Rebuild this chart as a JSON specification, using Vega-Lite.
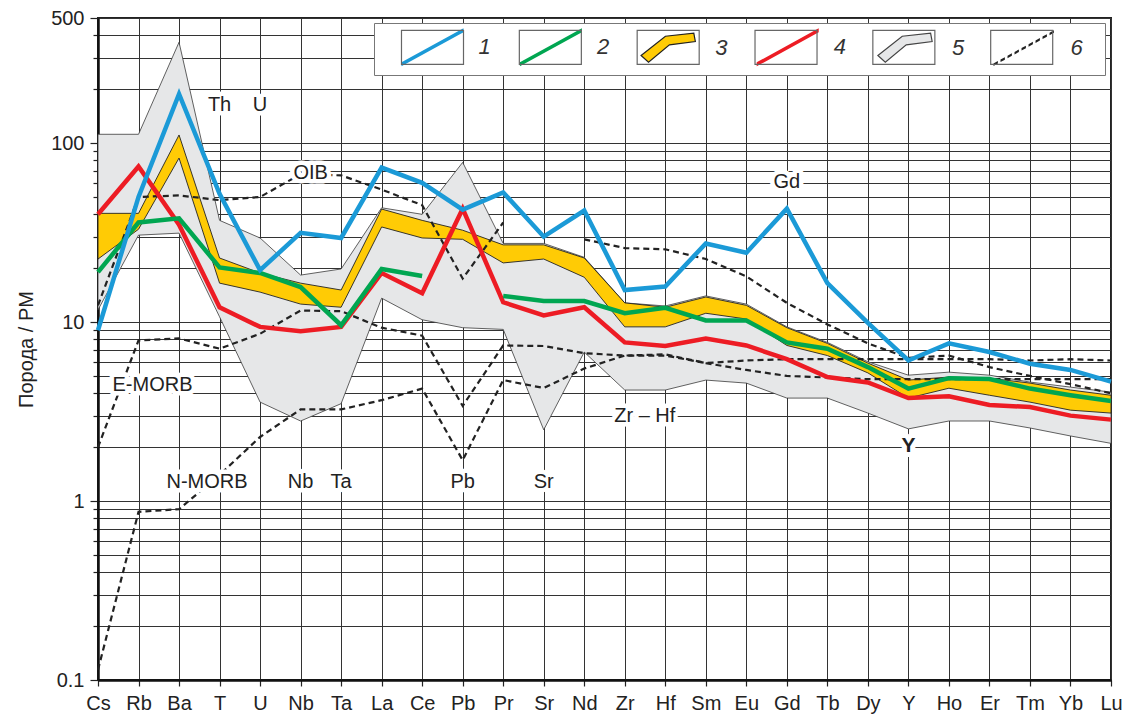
{
"$schema": "https://vega.github.io/schema/vega-lite/v6.json",
"width": 1013, "height": 662,
"autosize": {"type": "none"},
"padding": {"left": 98, "top": 18, "right": 15, "bottom": 37},
"background": "white",
"config": {"view": {"stroke": "#222", "strokeWidth": 2}, "font": "Liberation Sans"},
"datasets": {
"lines": [
{"el":"Cs","s":"1","g":"1","v":9.0},{"el":"Rb","s":"1","g":"1","v":50},{"el":"Ba","s":"1","g":"1","v":188},{"el":"T","s":"1","g":"1","v":52},{"el":"U","s":"1","g":"1","v":19.5},{"el":"Nb","s":"1","g":"1","v":31.5},{"el":"Ta","s":"1","g":"1","v":29.5},{"el":"La","s":"1","g":"1","v":73},{"el":"Ce","s":"1","g":"1","v":60},{"el":"Pb","s":"1","g":"1","v":42.5},{"el":"Pr","s":"1","g":"1","v":53},{"el":"Sr","s":"1","g":"1","v":30},{"el":"Nd","s":"1","g":"1","v":42},{"el":"Zr","s":"1","g":"1","v":15.1},{"el":"Hf","s":"1","g":"1","v":15.8},{"el":"Sm","s":"1","g":"1","v":27.5},{"el":"Eu","s":"1","g":"1","v":24.4},{"el":"Gd","s":"1","g":"1","v":43},{"el":"Tb","s":"1","g":"1","v":16.5},{"el":"Dy","s":"1","g":"1","v":9.9},{"el":"Y","s":"1","g":"1","v":6.1},{"el":"Ho","s":"1","g":"1","v":7.6},{"el":"Er","s":"1","g":"1","v":6.8},{"el":"Tm","s":"1","g":"1","v":5.85},{"el":"Yb","s":"1","g":"1","v":5.4},{"el":"Lu","s":"1","g":"1","v":4.65},
{"el":"Cs","s":"2","g":"2a","v":19},{"el":"Rb","s":"2","g":"2a","v":36},{"el":"Ba","s":"2","g":"2a","v":38},{"el":"T","s":"2","g":"2a","v":20.2},{"el":"U","s":"2","g":"2a","v":18.8},{"el":"Nb","s":"2","g":"2a","v":15.7},{"el":"Ta","s":"2","g":"2a","v":9.6},{"el":"La","s":"2","g":"2a","v":19.8},{"el":"Ce","s":"2","g":"2a","v":18.1},
{"el":"Pr","s":"2","g":"2b","v":14},{"el":"Sr","s":"2","g":"2b","v":13.1},{"el":"Nd","s":"2","g":"2b","v":13.1},{"el":"Zr","s":"2","g":"2b","v":11.2},{"el":"Hf","s":"2","g":"2b","v":12.0},{"el":"Sm","s":"2","g":"2b","v":10.2},{"el":"Eu","s":"2","g":"2b","v":10.2},{"el":"Gd","s":"2","g":"2b","v":7.7},{"el":"Tb","s":"2","g":"2b","v":7.1},{"el":"Dy","s":"2","g":"2b","v":5.6},{"el":"Y","s":"2","g":"2b","v":4.25},{"el":"Ho","s":"2","g":"2b","v":4.86},{"el":"Er","s":"2","g":"2b","v":4.8},{"el":"Tm","s":"2","g":"2b","v":4.25},{"el":"Yb","s":"2","g":"2b","v":3.9},{"el":"Lu","s":"2","g":"2b","v":3.62},
{"el":"Cs","s":"4","g":"4","v":40},{"el":"Rb","s":"4","g":"4","v":74},{"el":"Ba","s":"4","g":"4","v":35},{"el":"T","s":"4","g":"4","v":12.1},{"el":"U","s":"4","g":"4","v":9.4},{"el":"Nb","s":"4","g":"4","v":8.9},{"el":"Ta","s":"4","g":"4","v":9.4},{"el":"La","s":"4","g":"4","v":18.8},{"el":"Ce","s":"4","g":"4","v":14.5},{"el":"Pb","s":"4","g":"4","v":43},{"el":"Pr","s":"4","g":"4","v":12.9},{"el":"Sr","s":"4","g":"4","v":10.9},{"el":"Nd","s":"4","g":"4","v":12.1},{"el":"Zr","s":"4","g":"4","v":7.7},{"el":"Hf","s":"4","g":"4","v":7.35},{"el":"Sm","s":"4","g":"4","v":8.1},{"el":"Eu","s":"4","g":"4","v":7.4},{"el":"Gd","s":"4","g":"4","v":6.2},{"el":"Tb","s":"4","g":"4","v":4.93},{"el":"Dy","s":"4","g":"4","v":4.6},{"el":"Y","s":"4","g":"4","v":3.76},{"el":"Ho","s":"4","g":"4","v":3.85},{"el":"Er","s":"4","g":"4","v":3.44},{"el":"Tm","s":"4","g":"4","v":3.35},{"el":"Yb","s":"4","g":"4","v":3.0},{"el":"Lu","s":"4","g":"4","v":2.85},
{"el":"Cs","s":"6","g":"OIB1","v":12.4},{"el":"Rb","s":"6","g":"OIB1","v":50},{"el":"Ba","s":"6","g":"OIB1","v":51},{"el":"T","s":"6","g":"OIB1","v":48},{"el":"U","s":"6","g":"OIB1","v":50},{"el":"Nb","s":"6","g":"OIB1","v":67},{"el":"Ta","s":"6","g":"OIB1","v":66},{"el":"La","s":"6","g":"OIB1","v":55},{"el":"Ce","s":"6","g":"OIB1","v":45},{"el":"Pb","s":"6","g":"OIB1","v":17.5},{"el":"Pr","s":"6","g":"OIB1","v":36},
{"el":"Nd","s":"6","g":"OIB2","v":29},{"el":"Zr","s":"6","g":"OIB2","v":25.9},{"el":"Hf","s":"6","g":"OIB2","v":25.5},{"el":"Sm","s":"6","g":"OIB2","v":22.5},{"el":"Eu","s":"6","g":"OIB2","v":18},{"el":"Gd","s":"6","g":"OIB2","v":12.8},{"el":"Tb","s":"6","g":"OIB2","v":9.7},{"el":"Dy","s":"6","g":"OIB2","v":7.6},{"el":"Y","s":"6","g":"OIB2","v":6.3},{"el":"Ho","s":"6","g":"OIB2","v":6.5},{"el":"Er","s":"6","g":"OIB2","v":5.6},{"el":"Tm","s":"6","g":"OIB2","v":5.0},{"el":"Yb","s":"6","g":"OIB2","v":4.5},{"el":"Lu","s":"6","g":"OIB2","v":4.0},
{"el":"Cs","s":"6","g":"E","v":2.0},{"el":"Rb","s":"6","g":"E","v":7.9},{"el":"Ba","s":"6","g":"E","v":8.1},{"el":"T","s":"6","g":"E","v":7.1},{"el":"U","s":"6","g":"E","v":8.6},{"el":"Nb","s":"6","g":"E","v":11.6},{"el":"Ta","s":"6","g":"E","v":11.5},{"el":"La","s":"6","g":"E","v":9.3},{"el":"Ce","s":"6","g":"E","v":8.4},{"el":"Pb","s":"6","g":"E","v":3.4},{"el":"Pr","s":"6","g":"E","v":7.4},{"el":"Sr","s":"6","g":"E","v":7.35},{"el":"Nd","s":"6","g":"E","v":6.7},{"el":"Zr","s":"6","g":"E","v":6.5},{"el":"Hf","s":"6","g":"E","v":6.6},{"el":"Sm","s":"6","g":"E","v":5.9},{"el":"Eu","s":"6","g":"E","v":5.4},{"el":"Gd","s":"6","g":"E","v":5.0},{"el":"Tb","s":"6","g":"E","v":4.9},{"el":"Dy","s":"6","g":"E","v":4.8},{"el":"Y","s":"6","g":"E","v":4.8},{"el":"Ho","s":"6","g":"E","v":4.8},{"el":"Er","s":"6","g":"E","v":4.8},{"el":"Tm","s":"6","g":"E","v":4.8},{"el":"Yb","s":"6","g":"E","v":4.8},{"el":"Lu","s":"6","g":"E","v":4.8},
{"el":"Cs","s":"6","g":"N","v":0.114},{"el":"Rb","s":"6","g":"N","v":0.87},{"el":"Ba","s":"6","g":"N","v":0.9},{"el":"T","s":"6","g":"N","v":1.4},{"el":"U","s":"6","g":"N","v":2.28},{"el":"Nb","s":"6","g":"N","v":3.25},{"el":"Ta","s":"6","g":"N","v":3.25},{"el":"La","s":"6","g":"N","v":3.66},{"el":"Ce","s":"6","g":"N","v":4.25},{"el":"Pb","s":"6","g":"N","v":1.69},{"el":"Pr","s":"6","g":"N","v":4.74},{"el":"Sr","s":"6","g":"N","v":4.28},{"el":"Nd","s":"6","g":"N","v":5.5},{"el":"Zr","s":"6","g":"N","v":6.5},{"el":"Hf","s":"6","g":"N","v":6.5},{"el":"Sm","s":"6","g":"N","v":5.9},{"el":"Eu","s":"6","g":"N","v":6.1},{"el":"Gd","s":"6","g":"N","v":6.2},{"el":"Tb","s":"6","g":"N","v":6.2},{"el":"Dy","s":"6","g":"N","v":6.2},{"el":"Y","s":"6","g":"N","v":6.2},{"el":"Ho","s":"6","g":"N","v":6.2},{"el":"Er","s":"6","g":"N","v":6.2},{"el":"Tm","s":"6","g":"N","v":6.1},{"el":"Yb","s":"6","g":"N","v":6.2},{"el":"Lu","s":"6","g":"N","v":6.1}
],
"bands": [
{"el":"Cs","b":"5","v":112,"lo":11.7},{"el":"Rb","b":"5","v":112,"lo":30.6},{"el":"Ba","b":"5","v":366,"lo":31.4},{"el":"T","b":"5","v":37,"lo":10.7},{"el":"U","b":"5","v":29.5,"lo":3.57},{"el":"Nb","b":"5","v":18.3,"lo":2.8},{"el":"Ta","b":"5","v":19.8,"lo":3.5},{"el":"La","b":"5","v":43.5,"lo":13.6},{"el":"Ce","b":"5","v":40,"lo":10.3},{"el":"Pb","b":"5","v":78,"lo":9.3},{"el":"Pr","b":"5","v":27.5,"lo":9.1},{"el":"Sr","b":"5","v":27.5,"lo":2.5},{"el":"Nd","b":"5","v":23,"lo":6.8},{"el":"Zr","b":"5","v":12.8,"lo":4.17},{"el":"Hf","b":"5","v":12.3,"lo":4.17},{"el":"Sm","b":"5","v":14,"lo":4.74},{"el":"Eu","b":"5","v":12.6,"lo":4.56},{"el":"Gd","b":"5","v":9.4,"lo":3.76},{"el":"Tb","b":"5","v":7.7,"lo":3.76},{"el":"Dy","b":"5","v":6.0,"lo":3.1},{"el":"Y","b":"5","v":5.05,"lo":2.53},{"el":"Ho","b":"5","v":5.25,"lo":2.8},{"el":"Er","b":"5","v":5.05,"lo":2.8},{"el":"Tm","b":"5","v":4.62,"lo":2.56},{"el":"Yb","b":"5","v":4.33,"lo":2.31},{"el":"Lu","b":"5","v":4.06,"lo":2.1},
{"el":"Cs","b":"3","v":40.5,"lo":22.5},{"el":"Rb","b":"3","v":40.5,"lo":33},{"el":"Ba","b":"3","v":111,"lo":82.5},{"el":"T","b":"3","v":22.8,"lo":16.5},{"el":"U","b":"3","v":18.8,"lo":14.7},{"el":"Nb","b":"3","v":16.5,"lo":12.6},{"el":"Ta","b":"3","v":15.1,"lo":12.1},{"el":"La","b":"3","v":42.8,"lo":34},{"el":"Ce","b":"3","v":37,"lo":29.5},{"el":"Pb","b":"3","v":32.6,"lo":29},{"el":"Pr","b":"3","v":27,"lo":21.4},{"el":"Sr","b":"3","v":27,"lo":22.5},{"el":"Nd","b":"3","v":22.8,"lo":17.8},{"el":"Zr","b":"3","v":12.8,"lo":9.4},{"el":"Hf","b":"3","v":12.1,"lo":9.4},{"el":"Sm","b":"3","v":13.8,"lo":11.2},{"el":"Eu","b":"3","v":12.4,"lo":10.4},{"el":"Gd","b":"3","v":9.3,"lo":7.4},{"el":"Tb","b":"3","v":7.6,"lo":6.5},{"el":"Dy","b":"3","v":5.9,"lo":5.2},{"el":"Y","b":"3","v":4.74,"lo":3.76},{"el":"Ho","b":"3","v":4.93,"lo":4.27},{"el":"Er","b":"3","v":4.86,"lo":3.9},{"el":"Tm","b":"3","v":4.56,"lo":3.57},{"el":"Yb","b":"3","v":4.17,"lo":3.22},{"el":"Lu","b":"3","v":3.9,"lo":3.1}
],
"labs": [
{"t":"Th","el":"T","v":163,"g":"c"},{"t":"U","el":"U","v":163,"g":"c"},{"t":"Gd","el":"Gd","v":60.5,"g":"c"},{"t":"Nb","el":"Nb","v":1.277,"g":"c"},{"t":"Ta","el":"Ta","v":1.277,"g":"c"},{"t":"Pb","el":"Pb","v":1.277,"g":"c"},{"t":"Sr","el":"Sr","v":1.277,"g":"c"},
{"t":"OIB","el":"Nb","v":68,"g":"oib"},{"t":"E-MORB","el":"Rb","v":4.45,"g":"em"},{"t":"N-MORB","el":"Ba","v":1.277,"g":"nm"},{"t":"Zr – Hf","el":"Zr","v":2.98,"g":"zh"},{"t":"Y","el":"Y","v":2.04,"g":"y"}
],
"legend": [{"k":"1","k2":"a"},{"k":"2","k2":"b"},{"k":"3","k2":"c"},{"k":"4","k2":"d"},{"k":"5","k2":"e"},{"k":"6","k2":"f"}]
},
"encoding": {
"x": {"field": "el", "type": "nominal",
 "scale": {"type": "point", "padding": 0, "domain": ["Cs","Rb","Ba","T","U","Nb","Ta","La","Ce","Pb","Pr","Sr","Nd","Zr","Hf","Sm","Eu","Gd","Tb","Dy","Y","Ho","Er","Tm","Yb","Lu"]},
 "axis": {"title": null, "labelAngle": 0, "labelFont": "Liberation Sans", "labelFontSize": 20, "labelColor": "#222", "labelPadding": 7, "labelOverlap": false, "tickSize": 6, "tickColor": "#222", "tickWidth": 1.2, "domainColor": "#111", "domainWidth": 2.5, "grid": true, "gridColor": "#333", "gridWidth": 1}},
"y": {"field": "v", "type": "quantitative",
 "scale": {"type": "log", "domain": [0.1, 500], "nice": false},
 "axis": {"values": [0.1,0.2,0.3,0.4,0.5,0.6,0.7,0.8,0.9,1,2,3,4,5,6,7,8,9,10,20,30,40,50,60,70,80,90,100,200,300,400,500],
  "format": "~g", "labelExpr": "indexof([0.1,1,10,100,500], datum.value) >= 0 ? datum.label : ''",
  "labelFont": "Liberation Sans", "labelFontSize": 20, "labelColor": "#222", "labelPadding": 6, "labelOverlap": false,
  "tickSize": {"condition": {"test": "indexof([0.1,1,10,100,500], datum.value) >= 0", "value": 8}, "value": 5},
  "tickColor": "#222", "tickWidth": 1.2, "domainColor": "#111", "domainWidth": 2.5,
  "grid": true, "gridColor": "#333", "gridWidth": 1,
  "title": "Порода / PM", "titleFont": "Liberation Sans", "titleFontSize": 20, "titleFontWeight": "normal", "titleColor": "#222", "titlePadding": 14}}
},
"layer": [
{"data": {"name": "bands"}, "transform": [{"filter": "datum.b == '5'"}], "mark": {"type": "area", "fill": "#e6e7e8", "stroke": "#3a3a3a", "strokeWidth": 0.8, "strokeJoin": "miter"}, "encoding": {"y2": {"field": "lo"}}},
{"data": {"name": "bands"}, "transform": [{"filter": "datum.b == '3'"}], "mark": {"type": "area", "fill": "#ffcb05", "stroke": "#222", "strokeWidth": 0.9, "strokeJoin": "miter"}, "encoding": {"y2": {"field": "lo"}}},
{"data": {"name": "lines"}, "transform": [{"filter": "datum.s == '6'"}], "mark": {"type": "line", "stroke": "#222", "strokeWidth": 2.2, "strokeDash": [6, 4]}, "encoding": {"detail": {"field": "g"}}},
{"data": {"name": "lines"}, "transform": [{"filter": "datum.s == '4'"}], "mark": {"type": "line", "stroke": "#ed1c24", "strokeWidth": 4.5, "strokeJoin": "miter"}, "encoding": {"detail": {"field": "g"}}},
{"data": {"name": "lines"}, "transform": [{"filter": "datum.s == '2'"}], "mark": {"type": "line", "stroke": "#00a651", "strokeWidth": 4.5, "strokeJoin": "miter"}, "encoding": {"detail": {"field": "g"}}},
{"data": {"name": "lines"}, "transform": [{"filter": "datum.s == '1'"}], "mark": {"type": "line", "stroke": "#1b9ad7", "strokeWidth": 4.5, "strokeJoin": "miter"}, "encoding": {"detail": {"field": "g"}}},
{"data": {"name": "labs"}, "transform": [{"filter": "datum.g == 'c'"}], "mark": {"type": "text", "font": "Liberation Sans", "fontSize": 20, "baseline": "middle", "fill": "white", "stroke": "white", "strokeWidth": 9, "strokeJoin": "round"}, "encoding": {"text": {"field": "t"}}},
{"data": {"name": "labs"}, "transform": [{"filter": "datum.g == 'c'"}], "mark": {"type": "text", "font": "Liberation Sans", "fontSize": 20, "baseline": "middle", "fill": "#222"}, "encoding": {"text": {"field": "t"}}},
{"data": {"name": "labs"}, "transform": [{"filter": "datum.g == 'oib'"}], "mark": {"type": "text", "font": "Liberation Sans", "fontSize": 20, "baseline": "middle", "dx": 10, "fill": "white", "stroke": "white", "strokeWidth": 9, "strokeJoin": "round"}, "encoding": {"text": {"field": "t"}}},
{"data": {"name": "labs"}, "transform": [{"filter": "datum.g == 'oib'"}], "mark": {"type": "text", "font": "Liberation Sans", "fontSize": 20, "baseline": "middle", "dx": 10, "fill": "#222"}, "encoding": {"text": {"field": "t"}}},
{"data": {"name": "labs"}, "transform": [{"filter": "datum.g == 'em'"}], "mark": {"type": "text", "font": "Liberation Sans", "fontSize": 20, "baseline": "middle", "dx": 14, "fill": "white", "stroke": "white", "strokeWidth": 9, "strokeJoin": "round"}, "encoding": {"text": {"field": "t"}}},
{"data": {"name": "labs"}, "transform": [{"filter": "datum.g == 'em'"}], "mark": {"type": "text", "font": "Liberation Sans", "fontSize": 20, "baseline": "middle", "dx": 14, "fill": "#222"}, "encoding": {"text": {"field": "t"}}},
{"data": {"name": "labs"}, "transform": [{"filter": "datum.g == 'nm'"}], "mark": {"type": "text", "font": "Liberation Sans", "fontSize": 20, "baseline": "middle", "dx": 28, "fill": "white", "stroke": "white", "strokeWidth": 9, "strokeJoin": "round"}, "encoding": {"text": {"field": "t"}}},
{"data": {"name": "labs"}, "transform": [{"filter": "datum.g == 'nm'"}], "mark": {"type": "text", "font": "Liberation Sans", "fontSize": 20, "baseline": "middle", "dx": 28, "fill": "#222"}, "encoding": {"text": {"field": "t"}}},
{"data": {"name": "labs"}, "transform": [{"filter": "datum.g == 'zh'"}], "mark": {"type": "text", "font": "Liberation Sans", "fontSize": 20, "baseline": "middle", "dx": 20, "fill": "white", "stroke": "white", "strokeWidth": 9, "strokeJoin": "round"}, "encoding": {"text": {"field": "t"}}},
{"data": {"name": "labs"}, "transform": [{"filter": "datum.g == 'zh'"}], "mark": {"type": "text", "font": "Liberation Sans", "fontSize": 20, "baseline": "middle", "dx": 20, "fill": "#222"}, "encoding": {"text": {"field": "t"}}},
{"data": {"name": "labs"}, "transform": [{"filter": "datum.g == 'y'"}], "mark": {"type": "text", "font": "Liberation Sans", "fontSize": 21, "fontWeight": "bold", "baseline": "middle", "fill": "white", "stroke": "white", "strokeWidth": 10, "strokeJoin": "round"}, "encoding": {"text": {"field": "t"}}},
{"data": {"name": "labs"}, "transform": [{"filter": "datum.g == 'y'"}], "mark": {"type": "text", "font": "Liberation Sans", "fontSize": 21, "fontWeight": "bold", "baseline": "middle", "fill": "#222"}, "encoding": {"text": {"field": "t"}}},
{"data": {"name": "legend"},
 "mark": {"type": "point", "opacity": 0},
 "encoding": {
  "shape": {"field": "k2", "type": "nominal",
   "scale": {"domain": ["a","b","c","d","e","f"], "range": [
     "M-1.824,0.883L1.824,-1.116L1.824,-0.883L-1.824,1.116ZM-1.824,-1ZM1.824,1Z",
     "M-1.824,0.883L1.824,-1.116L1.824,-0.883L-1.824,1.116ZM-1.824,-1ZM1.824,1Z",
     "M-1.659,0.419L-0.228,-0.711L1.441,-0.894L1.532,-0.401L0.009,-0.201L-1.222,0.821ZM-1.824,-1ZM1.824,1Z",
     "M-1.824,0.883L1.824,-1.116L1.824,-0.883L-1.824,1.116ZM-1.824,-1ZM1.824,1Z",
     "M-1.659,0.419L-0.228,-0.711L1.441,-0.894L1.532,-0.401L0.009,-0.201L-1.222,0.821ZM-1.824,-1ZM1.824,1Z",
     "M-1.824,0.926L-1.566,0.785L-1.566,0.931L-1.824,1.072ZM-1.411,0.701L-1.154,0.559L-1.154,0.705L-1.411,0.846ZM-0.999,0.475L-0.742,0.333L-0.742,0.479L-0.999,0.621ZM-0.587,0.249L-0.33,0.108L-0.33,0.253L-0.587,0.395ZM-0.175,0.023L0.082,-0.118L0.082,0.028L-0.175,0.169ZM0.237,-0.203L0.494,-0.344L0.494,-0.198L0.237,-0.057ZM0.649,-0.429L0.906,-0.57L0.906,-0.424L0.649,-0.283ZM1.061,-0.654L1.318,-0.796L1.318,-0.65L1.061,-0.509ZM1.473,-0.88L1.731,-1.022L1.731,-0.876L1.473,-0.735ZM-1.824,-1ZM1.824,1Z"]},
   "legend": {"orient": "none", "legendX": 276, "legendY": 5, "direction": "horizontal",
    "title": "\u2800", "titleOrient": "left", "titleFontSize": 12, "titlePadding": 25.5, "titleOpacity": 0,
    "symbolSize": 1156, "symbolStrokeWidth": 1.2, "symbolOpacity": 1,
    "labelExpr": "datum.value == 'f' ? '6\u2800' : '' + (indexof(['a','b','c','d','e','f'], datum.value) + 1)",
    "labelFont": "Liberation Sans", "labelFontSize": 22, "labelFontStyle": "italic", "labelColor": "#333",
    "labelOffset": 28, "columnPadding": 25.4, "padding": 6, "fillColor": "white", "strokeColor": "#777"}},
  "fill": {"field": "k2", "type": "nominal", "scale": {"domain": ["a","b","c","d","e","f"], "range": ["#1b9ad7","#00a651","#ffcb05","#ed1c24","#e6e7e8","#222222"]}},
  "stroke": {"field": "k2", "type": "nominal", "scale": {"domain": ["a","b","c","d","e","f"], "range": ["transparent","transparent","#222222","transparent","#444444","transparent"]}},
  "strokeDash": {"field": "k", "type": "nominal",
   "scale": {"domain": ["1","2","3","4","5","6"], "range": [[1,0],[1,0],[1,0],[1,0],[1,0],[1,0]]},
   "legend": {"orient": "none", "legendX": 276, "legendY": 5, "direction": "horizontal",
    "title": "\u2800", "titleOrient": "left", "titleFontSize": 12, "titlePadding": 25.5, "titleOpacity": 0,
    "symbolType": "M-1.824,-1H1.824V1H-1.824Z", "symbolSize": 1156, "symbolStrokeWidth": 1.2, "symbolOpacity": 1,
    "symbolFillColor": "transparent", "symbolStrokeColor": "#666",
    "labelFont": "Liberation Sans", "labelFontSize": 1, "labelColor": "#333", "labelOpacity": 0,
    "labelOffset": 40.23, "columnPadding": 24.84, "padding": 6}}
 }}
]
}
